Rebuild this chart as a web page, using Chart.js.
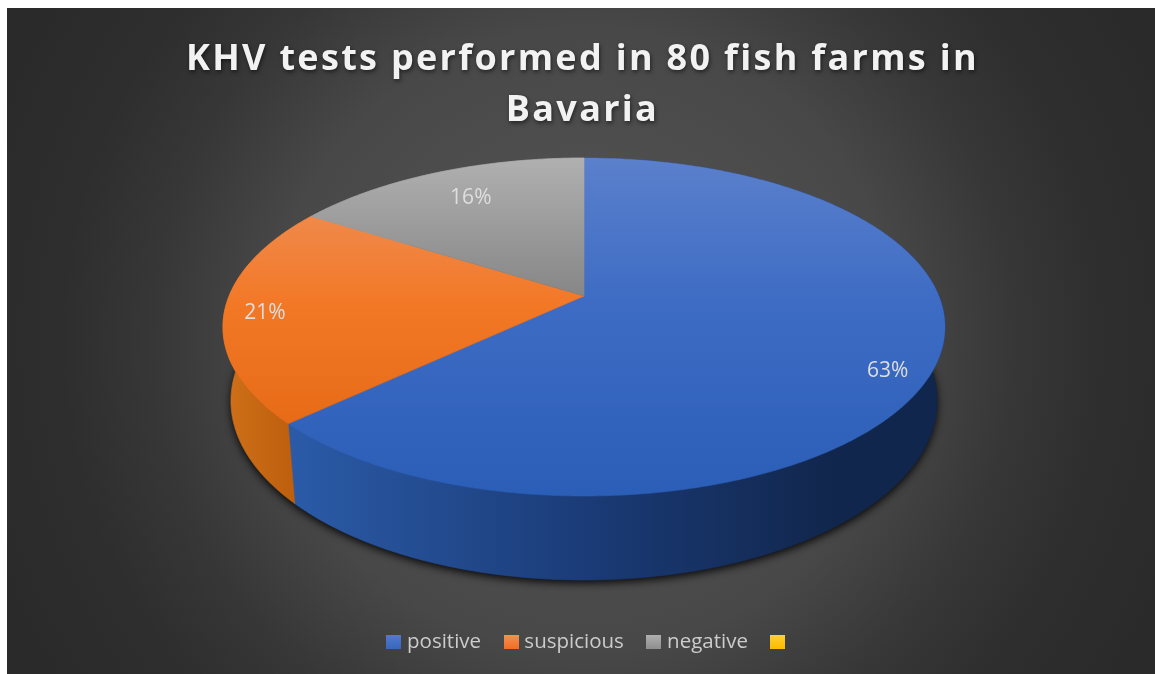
<!DOCTYPE html>
<html><head><meta charset="utf-8">
<style>html,body{margin:0;padding:0;background:#fff}#w{position:relative;width:1155px;height:674px}canvas{display:block}</style>
<script src="https://cdn.jsdelivr.net/npm/chart.js@4"></script></head>
<body><div id="w"><canvas id="c" width="1155" height="674"></canvas></div>
<script>
const titleLines = ['KHV tests performed in 80 fish farms in', 'Bavaria'];
const categories = ['positive', 'suspicious', 'negative', ''];
const shares = [63, 21, 16, 0];

const palette = [
  {stops:[[158,'#5b80cc'],[300,'#3e6cc4'],[496,'#2b5eb7']], wl:'#2b5ba8', wm:'#1a3a75', wr:'#11264c', key:['#4f7cd0','#3a66bd']},
  {stops:[[205,'#ef8b4f'],[305,'#f37826'],[496,'#e0640e']], wl:'#cf7019', wm:'#c6650f', wr:'#bf600f', key:['#f98f52','#ef7025']},
  {stops:[[158,'#b0b0b0'],[300,'#858585']], wl:'#777', wm:'#777', wr:'#777', key:['#b0b0b0','#8f8f8f']},
  {stops:[[158,'#ffd034'],[496,'#f5b800']], wl:'#b98a00', wm:'#b98a00', wr:'#b98a00', key:['#ffd034','#fdbb00']}
];
// projective view of the disc: apex of the slices, foreshortening, lower-rim mapping
const view = {ax:584, ay:296, a:354.9, b:163.3, k:0.1834, wallX:0.978, wallY:1.06, wallDrop:72};
const labelFrac = [0.9, 0.9, 0.8];
const labelNudge = [[-10,13],[4,3],[8,3]];

function project(angle, r, lower){
  const u = Math.cos(angle)*r, v = Math.sin(angle)*r, d = 1 - view.k*v;
  let X = view.a*u/d, Y = view.b*v/d;
  if(lower){ X *= view.wallX; Y = Y*view.wallY + view.wallDrop; }
  return [view.ax+X, view.ay+Y];
}
function samples(a0,a1){
  const n = Math.max(2, Math.ceil(Math.abs(a1-a0)/0.01)), out=[];
  for(let i=0;i<=n;i++) out.push(a0+(a1-a0)*i/n);
  return out;
}
function legendSwatch(i){
  const cv = document.createElement('canvas'); cv.width=15; cv.height=14;
  const x = cv.getContext('2d'), g = x.createLinearGradient(0,0,0,14);
  g.addColorStop(0,palette[i].key[0]); g.addColorStop(1,palette[i].key[1]);
  x.fillStyle=g; x.fillRect(0,0,15,14);
  return cv;
}
const piePlugin = {
  id:'pie3d',
  beforeDraw(chart){
    const ctx = chart.ctx;
    ctx.save();
    const g = ctx.createRadialGradient(584,340,20,584,340,640);
    g.addColorStop(0,'#565656'); g.addColorStop(0.47,'#484848'); g.addColorStop(0.66,'#373737'); g.addColorStop(0.81,'#2e2e2e'); g.addColorStop(1,'#2a2a2a');
    ctx.fillStyle = g; ctx.fillRect(7,8,1148,666);
    ctx.restore();
    const t = chart.titleBlock;
    if(!t._wrapped){
      const d = t.draw.bind(t); t._wrapped = true;
      t.draw = function(){
        ctx.save();
        ctx.letterSpacing='2.3px'; ctx.shadowColor='rgba(0,0,0,0.55)'; ctx.shadowBlur=4; ctx.shadowOffsetY=2; ctx.shadowOffsetX=1;
        d(); ctx.restore();
      };
      const l = chart.legend, ld = l.draw.bind(l);
      l.draw = function(){
        ctx.save();
        ctx.translate(8.5,0);
        ld(); ctx.restore();
      };
    }
  },
  beforeDatasetDraw(chart,args){
    const ctx = chart.ctx, arcs = args.meta.data.filter(a=>a.circumference>0);
    const idx = args.meta.data.map((a,i)=>a.circumference>0?i:-1).filter(i=>i>=0);
    // cast shadow of the whole solid
    ctx.save();
    ctx.shadowColor='rgba(0,0,0,0.9)'; ctx.shadowBlur=9; ctx.shadowOffsetY=3; ctx.shadowOffsetX=0;
    ctx.fillStyle='#111';
    ctx.beginPath();
    samples(0,Math.PI*2).forEach((a,i)=>{const p=project(a,1,true); i?ctx.lineTo(p[0],p[1]):ctx.moveTo(p[0],p[1]);});
    ctx.closePath(); ctx.fill();
    ctx.restore();
    // walls
    arcs.forEach((arc,n)=>{
      const st = palette[idx[n]];
      const g = ctx.createLinearGradient(223,0,945,0);
      if(idx[n]===0){ g.addColorStop(0.09,st.wl); g.addColorStop(0.52,st.wm); g.addColorStop(0.85,st.wr); g.addColorStop(1,st.wr);}
      else { g.addColorStop(0,st.wl); g.addColorStop(0.09,st.wr); g.addColorStop(1,st.wr); }
      ctx.fillStyle=g; ctx.strokeStyle=g; ctx.lineWidth=0.7;
      const as = samples(arc.startAngle,arc.endAngle);
      ctx.beginPath();
      as.forEach((a,i)=>{const p=project(a,1,false); i?ctx.lineTo(p[0],p[1]):ctx.moveTo(p[0],p[1]);});
      as.slice().reverse().forEach(a=>{const p=project(a,1,true); ctx.lineTo(p[0],p[1]);});
      ctx.closePath(); ctx.fill(); ctx.stroke();
    });
    // faces
    arcs.forEach((arc,n)=>{
      const st = palette[idx[n]];
      const y0 = st.stops[0][0], y1 = st.stops[st.stops.length-1][0];
      const g = ctx.createLinearGradient(0,y0,0,y1);
      st.stops.forEach(s=>g.addColorStop((s[0]-y0)/(y1-y0),s[1]));
      ctx.fillStyle=g; ctx.strokeStyle=g; ctx.lineWidth=0.6;
      ctx.beginPath(); ctx.moveTo(view.ax,view.ay);
      samples(arc.startAngle,arc.endAngle).forEach(a=>{const p=project(a,1,false); ctx.lineTo(p[0],p[1]);});
      ctx.closePath(); ctx.fill(); ctx.stroke();
    });
    // value labels
    ctx.save();
    ctx.font='21px "Open Sans"'; ctx.fillStyle='#dedede'; ctx.textAlign='center'; ctx.textBaseline='middle';
    arcs.forEach((arc,n)=>{
      const i = idx[n], p = project((arc.startAngle+arc.endAngle)/2,labelFrac[i],false);
      ctx.fillText(shares[i]+'%', p[0]+labelNudge[i][0], p[1]+labelNudge[i][1]);
    });
    ctx.restore();
    return false;
  }
};
new Chart(document.getElementById('c'),{
  type:'pie',
  data:{labels:categories,datasets:[{data:shares,backgroundColor:palette.map(p=>p.key[1]),borderWidth:0}]},
  plugins:[piePlugin],
  options:{
    responsive:false,animation:false,
    radius:361,
    layout:{padding:{left:10,top:8,right:0,bottom:12}},
    plugins:{
      tooltip:{enabled:false},
      title:{display:true,text:titleLines,color:'#f2f2f2',align:'center',
        font:{family:'"Open Sans"',size:36,weight:'bold',lineHeight:1.42},padding:{top:26,bottom:10}},
      legend:{position:'bottom',
        labels:{color:'#cccccc',font:{family:'"Open Sans"',size:20.5},usePointStyle:true,pointStyleWidth:6,boxHeight:14,padding:27,
          generateLabels(){
            return categories.map((text,i)=>({text,fillStyle:palette[i].key[1],pointStyle:legendSwatch(i),strokeStyle:'transparent',lineWidth:0,fontColor:'#cccccc',index:i,hidden:false}));
          }}}
    }
  }
});
</script></body></html>
